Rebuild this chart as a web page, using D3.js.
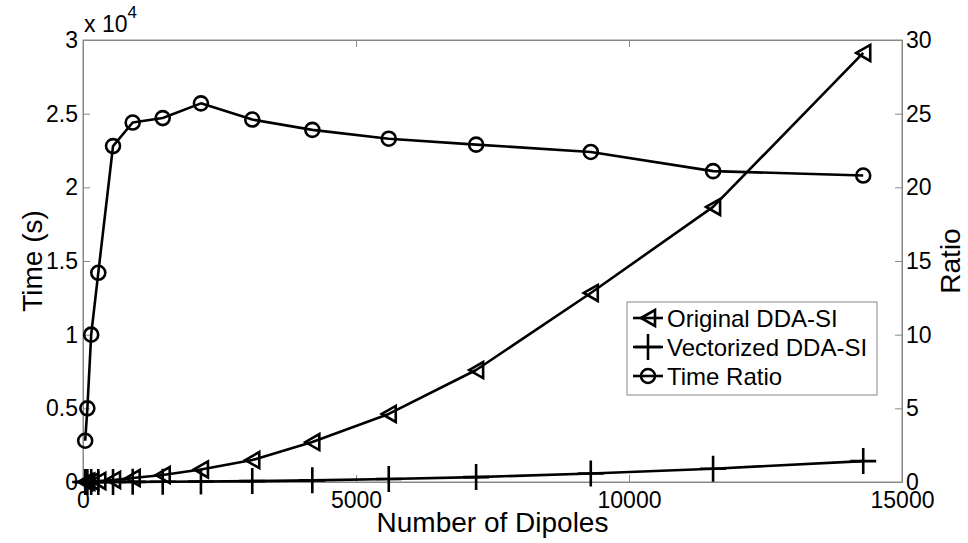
<!DOCTYPE html>
<html>
<head>
<meta charset="utf-8">
<script src="https://cdn.jsdelivr.net/npm/d3@7"></script>
<style>
  body { margin: 0; background: #fff; }
  svg { display: block; font-family: "Liberation Sans", Arial, sans-serif; }
  .axis path, .axis line { stroke: #888; stroke-width: 1; }
  .axis text { fill: #000; font-size: 23px; }
</style>
</head>
<body>
<svg width="968" height="543"></svg>
<script>
var svg = d3.select('svg');

// number of dipoles (x)
var dipoles = [40, 80, 150, 280, 550, 910, 1460, 2160, 3100, 4200, 5600, 7200, 9300, 11540, 14290];
// time in seconds, left axis
var originalTime = [6, 15, 35, 70, 140, 270, 470, 850, 1490, 2710, 4620, 7600, 12830, 18670, 29120];
var vectorTime = [2, 3, 4, 5, 6, 11, 19, 33, 61, 113, 199, 332, 573, 900, 1420];
// speed-up ratio, right axis
var timeRatio = [2.8, 5.0, 10.0, 14.2, 22.8, 24.4, 24.7, 25.7, 24.6, 23.9, 23.3, 22.9, 22.4, 21.1, 20.8];

var xTicks = [0, 5000, 10000, 15000];
var yLeftTicks = [0, 5000, 10000, 15000, 20000, 25000, 30000];
var yRightTicks = [0, 5, 10, 15, 20, 25, 30];
var legendNames = ['Original DDA-SI', 'Vectorized DDA-SI', 'Time Ratio'];

var plotLeft = 83, plotRight = 902, plotTop = 40, plotBottom = 482;

var x = d3.scaleLinear().domain([0, 15000]).range([plotLeft, plotRight]);
var yL = d3.scaleLinear().domain([0, 30000]).range([plotBottom, plotTop]);
var yR = d3.scaleLinear().domain([0, 30]).range([plotBottom, plotTop]);

// box
svg.append('rect')
  .attr('x', plotLeft).attr('y', plotTop)
  .attr('width', plotRight - plotLeft).attr('height', plotBottom - plotTop)
  .attr('fill', 'none').attr('stroke', '#888').attr('stroke-width', 1);

// axes with inward ticks
svg.append('g').attr('class', 'axis')
  .attr('transform', 'translate(0,' + plotBottom + ')')
  .call(d3.axisBottom(x).tickValues(xTicks).tickSizeInner(-7).tickSizeOuter(0).tickPadding(10).tickFormat(d3.format('d')));
svg.append('g').attr('class', 'axis')
  .attr('transform', 'translate(0,' + plotTop + ')')
  .call(d3.axisTop(x).tickValues(xTicks).tickSizeInner(-7).tickSizeOuter(0).tickFormat(''));
svg.append('g').attr('class', 'axis')
  .attr('transform', 'translate(' + plotLeft + ',0)')
  .call(d3.axisLeft(yL).tickValues(yLeftTicks).tickSizeInner(-7).tickSizeOuter(0).tickPadding(5).tickFormat(d => d / 1e4));
svg.append('g').attr('class', 'axis')
  .attr('transform', 'translate(' + plotRight + ',0)')
  .call(d3.axisRight(yR).tickValues(yRightTicks).tickSizeInner(-7).tickSizeOuter(0).tickPadding(4));

// exponent label
var expo = svg.append('text').attr('x', 84).attr('y', 32).attr('font-size', 23);
expo.append('tspan').text('x 10');
expo.append('tspan').attr('dy', -14).attr('font-size', 17).text('4');

// axis titles
svg.append('text').attr('x', (plotLeft + plotRight) / 2).attr('y', 532)
  .attr('text-anchor', 'middle').attr('font-size', 28).text('Number of Dipoles');
svg.append('text').attr('transform', 'translate(42,' + (plotTop + plotBottom) / 2 + ')rotate(-90)')
  .attr('text-anchor', 'middle').attr('font-size', 28).text('Time (s)');
svg.append('text').attr('transform', 'translate(960,' + (plotTop + plotBottom) / 2 + ')rotate(-90)')
  .attr('text-anchor', 'middle').attr('font-size', 28).text('Ratio');

var line = d3.line();
function pts(ys, yScale) { return dipoles.map((d, i) => [x(d), yScale(ys[i])]); }

var lineStyle = g => g.attr('fill', 'none').attr('stroke', '#000').attr('stroke-width', 2.6).attr('stroke-linejoin', 'round');

var triPath = 'M-7,0L7,-8L7,8Z';
var plusPath = 'M-13,0L13,0M0,-13L0,13';

function drawMarkers(points, kind) {
  var g = svg.append('g');
  if (kind === 'circle') {
    g.selectAll('circle').data(points).join('circle')
      .attr('cx', d => d[0]).attr('cy', d => d[1]).attr('r', 7)
      .attr('fill', 'none').attr('stroke', '#000').attr('stroke-width', 2.6);
  } else {
    g.selectAll('path').data(points).join('path')
      .attr('transform', d => 'translate(' + d[0] + ',' + d[1] + ')')
      .attr('d', kind === 'tri' ? triPath : plusPath)
      .attr('fill', 'none').attr('stroke', '#000').attr('stroke-width', 2.6)
      .attr('stroke-linejoin', 'miter');
  }
}

var pOrig = pts(originalTime, yL);
var pVec = pts(vectorTime, yL);
var pRatio = pts(timeRatio, yR);

svg.append('path').attr('d', line(pOrig)).call(lineStyle);
drawMarkers(pOrig, 'tri');
svg.append('path').attr('d', line(pVec)).call(lineStyle);
drawMarkers(pVec, 'plus');
svg.append('path').attr('d', line(pRatio)).call(lineStyle);
drawMarkers(pRatio, 'circle');

// legend
var lg = svg.append('g');
lg.append('rect').attr('x', 627).attr('y', 302).attr('width', 250).attr('height', 93)
  .attr('fill', '#fff').attr('stroke', '#888').attr('stroke-width', 1);
var kinds = ['tri', 'plus', 'circle'];
legendNames.forEach(function (name, i) {
  var cy = 318 + i * 29;
  lg.append('path').attr('d', 'M633,' + cy + 'L663,' + cy).call(lineStyle);
  if (kinds[i] === 'circle') {
    lg.append('circle').attr('cx', 648).attr('cy', cy).attr('r', 7)
      .attr('fill', 'none').attr('stroke', '#000').attr('stroke-width', 2.6);
  } else {
    lg.append('path').attr('transform', 'translate(648,' + cy + ')')
      .attr('d', kinds[i] === 'tri' ? triPath : plusPath)
      .attr('fill', 'none').attr('stroke', '#000').attr('stroke-width', 2.6);
  }
  lg.append('text').attr('x', 667).attr('y', cy + 9).attr('font-size', 24).text(name);
});
</script>
</body>
</html>
